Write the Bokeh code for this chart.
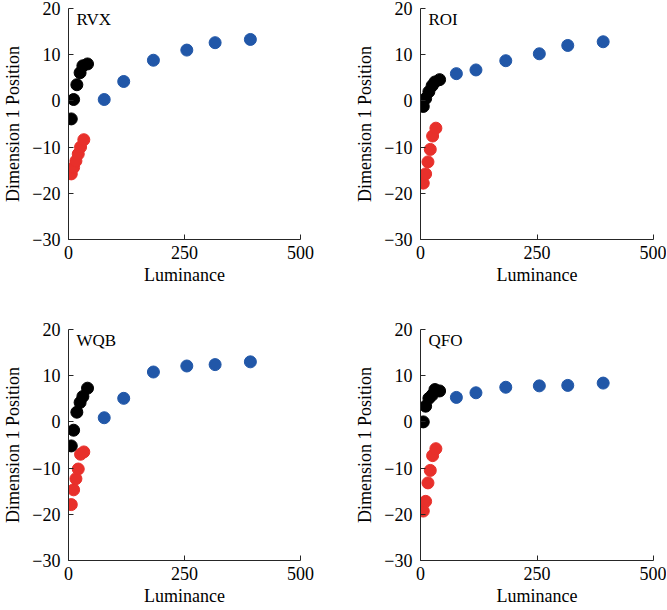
from bokeh.plotting import figure
from bokeh.layouts import column, row
from bokeh.models import Label, Range1d, FixedTicker, CustomJSTickFormatter
from bokeh.embed import file_html
from bokeh.resources import INLINE

# ---- data ----
panels = ["RVX", "ROI", "WQB", "QFO"]

lum_blue = [77, 119, 183, 255, 316, 392]
lum_black = [6, 11, 18, 25, 31, 41]
lum_red = [6, 11, 16, 21, 26, 33]

rvx_blue = [0.3, 4.2, 8.8, 11.0, 12.6, 13.3]
rvx_black = [-3.9, 0.3, 3.5, 6.1, 7.6, 8.0]
rvx_red = [-15.8, -14.4, -13.0, -11.5, -10.0, -8.4]

roi_blue = [5.9, 6.7, 8.7, 10.2, 12.0, 12.8]
roi_black = [-1.2, 0.5, 2.0, 3.3, 4.1, 4.6]
roi_red = [-17.8, -15.8, -13.2, -10.5, -7.6, -5.9]

wqb_blue = [0.9, 5.1, 10.8, 12.1, 12.4, 13.0]
wqb_black = [-5.2, -1.8, 2.1, 4.2, 5.5, 7.3]
wqb_red = [-17.9, -14.7, -12.3, -10.2, -7.0, -6.5]

qfo_blue = [5.3, 6.3, 7.5, 7.8, 7.9, 8.4]
qfo_black = [0.0, 3.4, 5.1, 5.8, 7.0, 6.7]
qfo_red = [-19.3, -17.2, -13.2, -10.5, -7.3, -5.8]

x_ticks = [0, 250, 500]
y_ticks = [-30, -20, -10, 0, 10, 20]

BLUE = "#2157A8"
RED = "#E8302B"
BLACK = "#000000"
FONT = "Liberation Serif"
AXIS_COLOR = "#262626"

FRAME_W = 233
FRAME_H = 231


def make(name, blue, black, red, bl, br, bt, bb):
    w = bl + FRAME_W + br
    h = bt + FRAME_H + bb
    p = figure(width=w, height=h,
               x_range=Range1d(0, 500), y_range=Range1d(-30, 20),
               output_backend="svg", toolbar_location=None,
               min_border_left=bl, min_border_right=br,
               min_border_top=bt, min_border_bottom=bb)
    p.outline_line_color = None
    p.grid.visible = False
    p.background_fill_color = "white"
    p.border_fill_color = "white"

    p.scatter(lum_blue, blue, size=12, color=BLUE)
    p.scatter(lum_red, red, size=12, color=RED)
    p.scatter(lum_black, black, size=12, color=BLACK)

    for ax in (p.xaxis[0], p.yaxis[0]):
        ax.axis_line_color = AXIS_COLOR
        ax.major_tick_line_color = AXIS_COLOR
        ax.major_tick_in = 5
        ax.major_tick_out = 0
        ax.minor_tick_line_color = None
        ax.major_label_text_font = FONT
        ax.major_label_text_font_size = "18px"
        ax.major_label_text_color = "black"
        ax.axis_label_text_font = FONT
        ax.axis_label_text_font_size = "18px"
        ax.axis_label_text_font_style = "normal"
        ax.axis_label_text_color = "black"

    p.xaxis[0].ticker = FixedTicker(ticks=x_ticks)
    p.yaxis[0].ticker = FixedTicker(ticks=y_ticks)
    p.yaxis[0].formatter = CustomJSTickFormatter(
        code="return tick < 0 ? '\u2212' + Math.abs(tick) : String(tick);")
    p.xaxis[0].axis_label = "Luminance"
    p.yaxis[0].axis_label = "Dimension 1 Position"
    p.xaxis[0].major_label_standoff = 6
    p.xaxis[0].axis_label_standoff = 3
    p.yaxis[0].major_label_standoff = 8
    p.yaxis[0].axis_label_standoff = 6

    p.add_layout(Label(x=0, y=20, x_offset=8, y_offset=-1, text=name,
                       text_font=FONT, text_font_size="17px",
                       text_baseline="top", text_align="left",
                       text_color="black"))
    return p


p1 = make(panels[0], rvx_blue, rvx_black, rvx_red, 67, 27, 8, 82)
p2 = make(panels[1], roi_blue, roi_black, roi_red, 93, 13, 8, 82)
p3 = make(panels[2], wqb_blue, wqb_black, wqb_red, 67, 27, 8, 50)
p4 = make(panels[3], qfo_blue, qfo_black, qfo_red, 93, 13, 8, 50)

layout = column(row(p1, p2), row(p3, p4))

open("out.html", "w").write(file_html(layout, INLINE))
